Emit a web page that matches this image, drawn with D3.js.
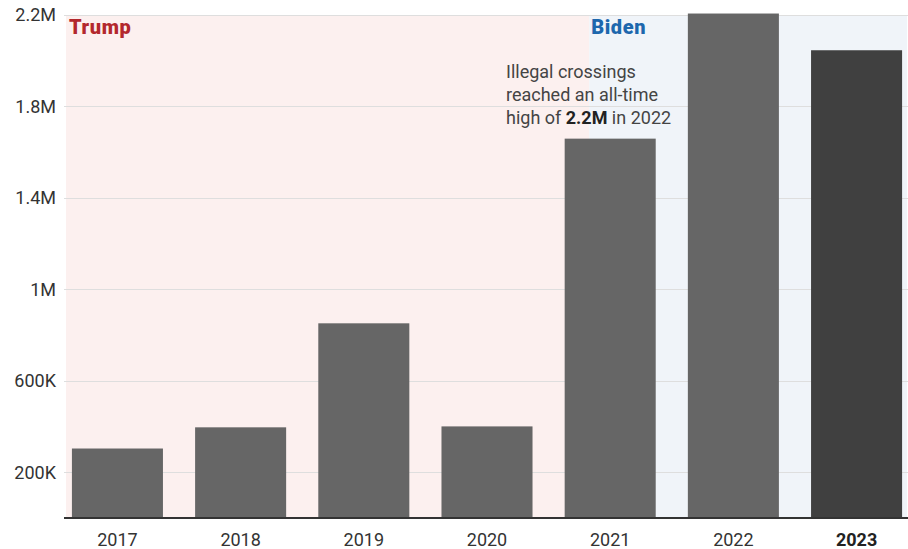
<!DOCTYPE html>
<html>
<head>
<meta charset="utf-8">
<script src="https://cdn.jsdelivr.net/npm/d3@7"></script>
<style>
  html, body { margin: 0; padding: 0; background: #fff; }
  svg { display: block; }
  text { font-family: Roboto, "Noto Sans", sans-serif; }
  text.pres { font-family: Roboto, sans-serif; letter-spacing: 0.6px; }
</style>
</head>
<body>
<svg id="chart" width="908" height="549"></svg>
<script>
// ---- data ----
const years = ["2017", "2018", "2019", "2020", "2021", "2022", "2023"];
const crossings = [303916, 396579, 851508, 400651, 1659206, 2206436, 2045838];
const yTicks = [200000, 600000, 1000000, 1400000, 1800000, 2200000];
const yTickLabels = ["200K", "600K", "1M", "1.4M", "1.8M", "2.2M"];
const highlightYear = "2023";
const presidents = ["Trump", "Biden"];
const presidentColors = ["#b3282d", "#1d67ad"];
const presidentShades = ["#fcf0ef", "#f0f4f9"];
// Trump term ends ~ a third of the way into fiscal year 2021
const transitionYear = "2021";
const transitionFraction = 0.33;
const annotationLines = [
  [{t: "Illegal crossings", b: false}],
  [{t: "reached an all-time", b: false}],
  [{t: "high of ", b: false}, {t: "2.2M", b: true}, {t: " in 2022", b: false}]
];

// ---- layout ----
const svg = d3.select("#chart");
const margin = {left: 66, right: 0, top: 15, bottom: 32};
const W = 908, H = 549;
const plotBottom = 518;

const x = d3.scaleBand()
  .domain(years)
  .range([margin.left, W])
  .paddingInner(0.261)
  .paddingOuter(0.048);

const y = d3.scaleLinear()
  .domain([0, 2200000])
  .range([plotBottom, margin.top]);

const step = x.step();
const bandStart = yr => x(yr) - step * x.paddingInner() / 2;
const transX = bandStart(transitionYear) + transitionFraction * step;
const shadeRight = 907;

// shading
svg.append("rect")
  .attr("x", margin.left).attr("y", y(2200000))
  .attr("width", transX - margin.left).attr("height", plotBottom - y(2200000))
  .attr("fill", presidentShades[0]);
svg.append("rect")
  .attr("x", transX).attr("y", y(2200000))
  .attr("width", shadeRight - transX).attr("height", plotBottom - y(2200000))
  .attr("fill", presidentShades[1]);

// gridlines
svg.append("g").selectAll("line")
  .data(yTicks)
  .join("line")
  .attr("x1", 64).attr("x2", W)
  .attr("y1", d => Math.round(y(d)) + 0.5)
  .attr("y2", d => Math.round(y(d)) + 0.5)
  .attr("stroke", "#dedede").attr("stroke-width", 1);

// y labels
svg.append("g").selectAll("text")
  .data(yTicks)
  .join("text")
  .attr("x", 56)
  .attr("y", d => y(d))
  .attr("dy", "0.35em")
  .attr("text-anchor", "end")
  .attr("font-size", 18)
  .attr("fill", "#333")
  .text((d, i) => yTickLabels[i]);

// bars
svg.append("g").selectAll("rect")
  .data(years)
  .join("rect")
  .attr("x", d => x(d))
  .attr("width", x.bandwidth())
  .attr("y", (d, i) => y(crossings[i]))
  .attr("height", (d, i) => plotBottom - y(crossings[i]))
  .attr("fill", d => d === highlightYear ? "#404040" : "#666666");

// baseline
svg.append("line")
  .attr("x1", 64).attr("x2", W)
  .attr("y1", plotBottom).attr("y2", plotBottom)
  .attr("stroke", "#333").attr("stroke-width", 2);

// x labels
svg.append("g").selectAll("text")
  .data(years)
  .join("text")
  .attr("x", d => x(d) + x.bandwidth() / 2)
  .attr("y", 546)
  .attr("text-anchor", "middle")
  .attr("font-size", 18)
  .attr("font-weight", d => d === highlightYear ? "bold" : "normal")
  .attr("fill", d => d === highlightYear ? "#222" : "#333")
  .text(d => d);

// president labels
svg.append("text")
  .attr("class", "pres")
  .attr("x", margin.left + 3).attr("y", 34)
  .attr("font-size", 20).attr("font-weight", 900)
  .attr("fill", presidentColors[0])
  .text(presidents[0]);
svg.append("text")
  .attr("class", "pres")
  .attr("x", transX + 2).attr("y", 34)
  .attr("font-size", 20).attr("font-weight", 900)
  .attr("fill", presidentColors[1])
  .text(presidents[1]);

// annotation
const ann = svg.append("text")
  .attr("x", 506).attr("y", 78)
  .attr("font-size", 18)
  .attr("fill", "#444");
annotationLines.forEach((line, i) => {
  line.forEach((seg, j) => {
    const ts = ann.append("tspan").text(seg.t);
    if (j === 0) ts.attr("x", 506).attr("dy", i === 0 ? 0 : 23);
    if (seg.b) ts.attr("font-weight", "bold").attr("fill", "#222");
  });
});
</script>
</body>
</html>
